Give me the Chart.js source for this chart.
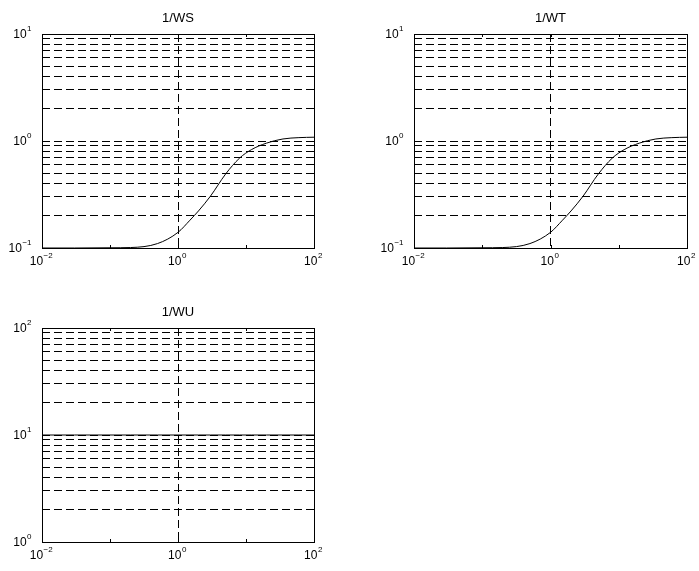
<!doctype html>
<html lang="en">

<head>
    <meta charset="utf-8">
    <title>1/WS 1/WT 1/WU</title>
    <style>
        * {
            margin: 0;
            padding: 0;
        }

        body {
            width: 699px;
            height: 571px;
            background: #fff;
            position: relative;
            overflow: hidden;
        }

        canvas {
            position: absolute;
        }
    </style>
</head>

<body>
    <canvas id="chartWS" width="350" height="285" style="left:0;top:0"></canvas>
    <canvas id="chartWT" width="349" height="285" style="left:350px;top:0"></canvas>
    <canvas id="chartWU" width="350" height="286" style="left:0;top:285px"></canvas>
    <script src="https://cdn.jsdelivr.net/npm/chart.js/dist/chart.umd.min.js"></script>
    <script>
        // frequency points
        const freq = [0.01, 0.03, 0.1, 0.2, 0.5, 1, 1.5, 2, 3, 5, 8, 12, 20, 35, 60, 100];
        const invWS = [0.100, 0.100, 0.1005, 0.101, 0.110, 0.140, 0.182, 0.222, 0.305, 0.490, 0.690, 0.830, 0.955, 1.045, 1.075, 1.085];
        const invWT = [0.100, 0.100, 0.1005, 0.101, 0.110, 0.140, 0.182, 0.222, 0.305, 0.490, 0.690, 0.830, 0.955, 1.045, 1.075, 1.085];
        const invWU = [10, 10, 10, 10, 10, 10, 10, 10, 10, 10, 10, 10, 10, 10, 10, 10];

        // axis decades
        const xDecades = [0.01, 0.1, 1, 10, 100];
        const xLabelled = [-2, 0, 2];
        const yDecadesS = [-1, 0, 1];
        const yDecadesU = [0, 1, 2];

        const FONT = '"Liberation Sans", Arial, sans-serif';

        function minorTicks(expLo, expHi) {
            const out = [];
            for (let e = expLo; e < expHi; e++) {
                for (let k = 1; k <= 9; k++) out.push(k * Math.pow(10, e));
            }
            out.push(Math.pow(10, expHi));
            return out;
        }

        // "10" with a raised exponent, right edge or centre at x
        function powLabel(ctx, exp, x, y, align) {
            const base = '10';
            const sup = String(exp).replace('-', '\u2212');
            ctx.font = '12px ' + FONT;
            const w1 = ctx.measureText(base).width;
            ctx.font = '8px ' + FONT;
            const w2 = ctx.measureText(sup).width;
            let x0 = align === 'right' ? x - w1 - w2 : x - (w1 + w2) / 2;
            ctx.textAlign = 'left';
            ctx.textBaseline = 'middle';
            ctx.font = '12px ' + FONT;
            ctx.fillText(base, x0, y);
            ctx.font = '8px ' + FONT;
            ctx.fillText(sup, x0 + w1 + 0.5, y - 6);
        }

        const framePlugin = {
            id: 'frame',
            afterDraw(chart) {
                const { ctx, chartArea: a, scales } = chart;
                const opts = chart.options.plugins.frame;
                ctx.save();
                ctx.strokeStyle = '#000';
                ctx.lineWidth = 1;
                ctx.strokeRect(Math.round(a.left) + 0.5, Math.round(a.top) + 0.5,
                    Math.round(a.right) - Math.round(a.left), Math.round(a.bottom) - Math.round(a.top));

                // small inward ticks at x decades
                ctx.beginPath();
                xDecades.forEach(v => {
                    const px = Math.round(scales.x.getPixelForValue(v)) + 0.5;
                    ctx.moveTo(px, a.bottom);
                    ctx.lineTo(px, a.bottom - 3);
                    ctx.moveTo(px, a.top);
                    ctx.lineTo(px, a.top + 3);
                });
                ctx.stroke();

                ctx.fillStyle = '#000';
                // title
                ctx.font = '13px ' + FONT;
                ctx.textAlign = 'center';
                ctx.textBaseline = 'middle';
                ctx.fillText(opts.text, (a.left + a.right) / 2, a.top - 16);

                // y labels
                opts.yExp.forEach(e => {
                    const py = scales.y.getPixelForValue(Math.pow(10, e));
                    powLabel(ctx, e, a.left - 11, py + 1, 'right');
                });
                // x labels
                xLabelled.forEach(e => {
                    const px = scales.x.getPixelForValue(Math.pow(10, e));
                    powLabel(ctx, e, px - 1, a.bottom + 14, 'center');
                });
                ctx.restore();
            }
        };

        function makeChart(id, title, values, yExp, pad) {
            const yMin = Math.pow(10, yExp[0]);
            const yMax = Math.pow(10, yExp[yExp.length - 1]);
            const yTicks = minorTicks(yExp[0], yExp[yExp.length - 1]);
            return new Chart(document.getElementById(id), {
                type: 'line',
                data: {
                    datasets: [{
                        data: freq.map((f, i) => ({ x: f, y: values[i] })),
                        borderColor: '#000',
                        borderWidth: 1,
                        pointRadius: 0,
                        cubicInterpolationMode: 'monotone',
                        fill: false
                    }]
                },
                options: {
                    responsive: false,
                    animation: false,
                    layout: { padding: pad },
                    plugins: {
                        legend: { display: false },
                        tooltip: { enabled: false },
                        frame: { text: title, yExp: yExp }
                    },
                    scales: {
                        x: {
                            type: 'logarithmic',
                            min: 0.01,
                            max: 100,
                            afterBuildTicks: s => { s.ticks = [{ value: 1 }]; },
                            afterFit: s => { s.height = 0; },
                            ticks: { display: false },
                            grid: { color: '#000', lineWidth: 1, drawTicks: false },
                            border: { display: false, dash: [8, 4] }
                        },
                        y: {
                            type: 'logarithmic',
                            min: yMin,
                            max: yMax,
                            afterBuildTicks: s => { s.ticks = yTicks.map(v => ({ value: v })); },
                            afterFit: s => { s.width = 0; },
                            ticks: { display: false },
                            grid: { color: '#000', lineWidth: 1, drawTicks: false },
                            border: { display: false, dash: [8, 4] }
                        }
                    }
                },
                plugins: [framePlugin]
            });
        }

        makeChart('chartWS', '1/WS', invWS, yDecadesS, { left: 42, top: 34, right: 36, bottom: 37 });
        makeChart('chartWT', '1/WT', invWT, yDecadesS, { left: 64, top: 34, right: 12, bottom: 37 });
        makeChart('chartWU', '1/WU', invWU, yDecadesU, { left: 42, top: 43, right: 36, bottom: 29 });
    </script>
</body>

</html>
